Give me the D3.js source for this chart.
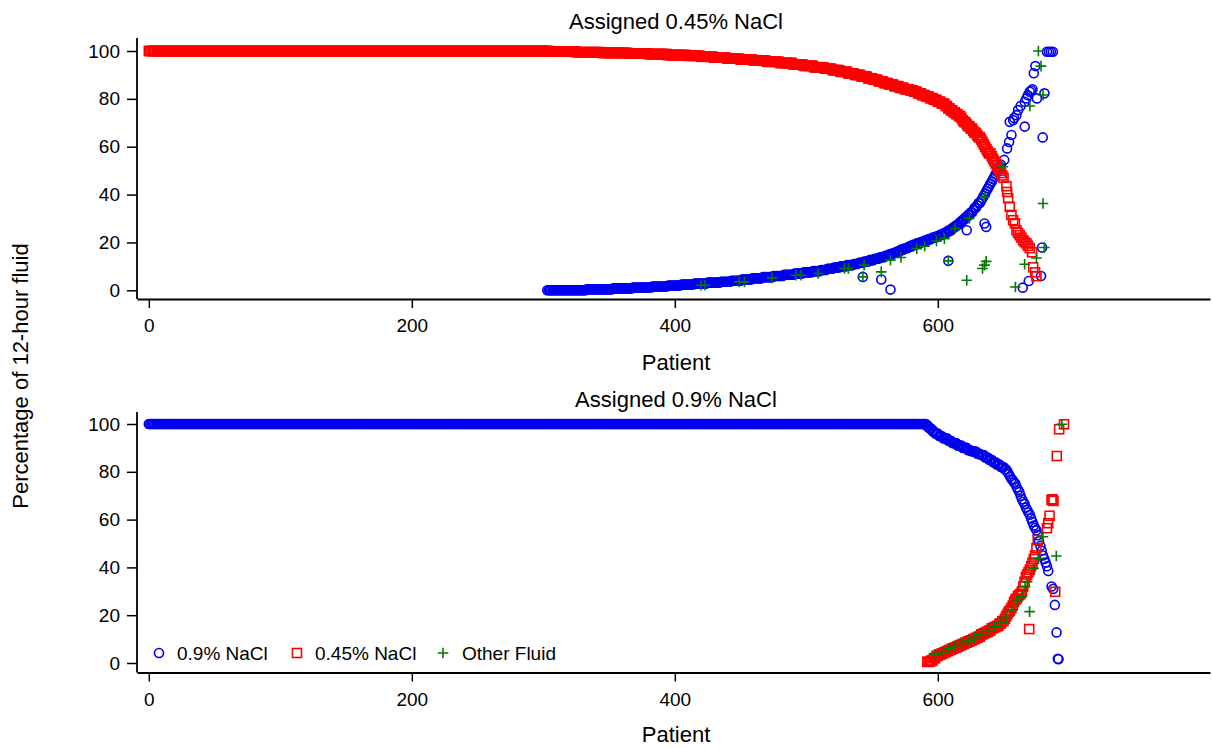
<!DOCTYPE html>
<html>
<head>
<meta charset="utf-8">
<script src="https://cdn.jsdelivr.net/npm/d3@7"></script>
<style>
  body { margin: 0; background: #fff; }
  svg { display: block; font-family: 'Liberation Sans', Arial, sans-serif; }
</style>
</head>
<body>
<svg id="chart" width="1212" height="748"></svg>
<script>
// ---- data ----
const xTicks = [0, 200, 400, 600];
const yTicks = [0, 20, 40, 60, 80, 100];
const seriesNames = ['0.9% NaCl', '0.45% NaCl', 'Other Fluid'];
const panelTitles = ['Assigned 0.45% NaCl', 'Assigned 0.9% NaCl'];

// sorted curves are kept as runs: [value, number of consecutive patients]
// top panel, 0.45% NaCl (red squares), starting at patient 0
const topRedStart = 0;
const topRedRuns = [
  [100, 305], [99.8, 20], [99.5, 20], [99.2, 20], [99, 15], [98.7, 15], [98.3, 15],
  [98, 10], [97.6, 10], [97.2, 10], [96.8, 10], [96.4, 10], [96, 10], [95.5, 10], [95, 10],
  [94.4, 8], [93.8, 8], [93.2, 8], [92.6, 6], [92, 6], [91.3, 6], [90.6, 5], [90, 5], [89.3, 5],
  [88.6, 4], [88, 4], [87.3, 4], [86.6, 4], [86, 4], [85.3, 4], [84.6, 4], [84, 4],
  [83.5, 3], [83, 3], [82.3, 3], [81.6, 3], [81, 3], [80.3, 3], [79.6, 3], [78.8, 3], [78, 3],
  [77, 2], [76, 2], [75.2, 2], [74.4, 2], [73.6, 2], [72.8, 2], [72, 1], [71, 1], [70.3, 2],
  [69.4, 1], [68.6, 2], [67.6, 2], [66.6, 1], [65.8, 2], [64.8, 1], [64, 2], [63, 1], [62, 1],
  [61, 1], [60, 1], [59, 1], [58, 1], [57.2, 2], [56, 1], [55, 1], [54, 1], [53, 1], [52, 1],
  [51, 1], [50, 1], [49, 1], [48, 1], [47, 1]
];
// scattered points: [patient, value]
const topRedExtra = [
  [652.2, 43.5], [652.7, 41.1], [653.5, 38.5], [654.7, 34.9], [656, 31.5], [657.3, 29.3],
  [658.6, 28], [659.8, 25.1], [661, 24], [662.3, 23], [663.6, 22], [664.9, 20.9], [666, 20.2],
  [667.4, 19.6], [668.6, 18.6], [669.9, 17.6], [671.7, 15.9], [672.5, 9.6], [674, 7.5], [675, 5.9]
];

// top panel, 0.9% NaCl (blue circles)
const topBlueStart = 303;
const topBlueRuns = [
  [0, 30], [0.4, 20], [0.8, 15], [1.2, 15], [1.6, 12], [2, 10], [2.4, 10], [2.8, 10], [3.2, 10],
  [3.6, 8], [4, 8], [4.5, 8], [5, 8], [5.5, 8], [6, 8], [6.5, 8], [7, 7], [7.5, 7], [8, 6],
  [8.5, 5], [9, 5], [9.5, 5], [10, 5], [10.5, 5], [11, 4], [11.5, 4], [12, 4], [12.6, 4],
  [13.2, 4], [13.8, 4], [14.4, 3], [15, 3], [15.6, 3], [16.2, 3], [17, 3], [17.6, 3], [18.3, 3],
  [19, 3], [19.6, 3], [20.2, 3], [20.8, 3], [21.4, 3], [22, 3], [22.6, 3], [23.3, 3], [24, 3],
  [25, 3], [26, 2], [26.8, 2], [27.5, 2], [28.5, 2], [29.5, 2], [30.5, 2], [31.5, 2], [32.5, 2],
  [33.5, 1], [34.5, 2], [35.5, 1], [36.5, 2], [37.5, 1], [38.5, 1], [39.5, 1], [40.5, 1],
  [41.5, 1], [42.5, 1], [43.5, 1], [44.5, 1], [45.5, 1], [46.5, 1], [47.5, 1], [48.5, 1],
  [49.5, 1], [50.5, 1], [51.5, 1], [52.5, 1]
];
const topBlueExtra = [
  [543, 5.6], [557, 4.5], [564, 0.3], [608, 12.3], [622, 25.1], [635.5, 27.9], [636.8, 26.5],
  [650.5, 54.5], [652.7, 59.3], [654.2, 62], [654.7, 70.4], [656, 64.9], [657.3, 71.1],
  [658, 72], [659.8, 73.2], [661.1, 75.3], [663, 77], [664.6, 1.1], [666.1, 78.8], [666.1, 68.4],
  [667.4, 80.2], [668.5, 81.5], [669.2, 3.9], [669.9, 83], [671, 83.5], [672, 84], [673, 90.7],
  [674.2, 93.7], [675.4, 80.2], [678.5, 6], [679.3, 17.9], [679.8, 63.9], [681.1, 82.3],
  [683, 99.7], [684.5, 99.7], [686, 99.7], [687.5, 99.7]
];

// top panel, other fluid (green plus)
const topGreen = [
  [420, 2.1], [423, 2.1], [449, 3.5], [453, 3.5], [474, 5.2], [492, 6.3], [496, 6.3], [509, 7],
  [529, 9.1], [532, 9.1], [543, 5.6], [544, 10.5], [557, 7.7], [564, 12.6], [572, 13.7],
  [584, 17.4], [590, 18.4], [599, 20.6], [605, 21.6], [608, 12.3], [613, 25.8], [622, 4.2],
  [624, 30], [634, 9.1], [635.5, 10.5], [636.8, 12.1], [635.5, 39], [649.5, 51.6], [659, 1.4],
  [666, 10.9], [670, 77], [675, 13.5], [676.5, 100], [678.5, 93.7], [680, 81.6], [680, 36.3],
  [681, 17.9]
];

// bottom panel, 0.9% NaCl (blue circles)
const bottomBlueStart = 0;
const bottomBlueRuns = [
  [100, 592], [99, 2], [98, 2], [97, 2], [96, 3], [95, 3], [94, 4], [93, 3], [92, 4], [91, 4],
  [90, 4], [89, 3], [88.5, 4], [87.5, 3], [87, 3], [86, 3], [85, 3], [84, 3], [83, 3], [82, 3],
  [81, 2], [80, 1], [79, 1], [78, 1], [77, 1], [76.5, 1], [75.5, 1], [75, 1], [73.5, 1],
  [72.5, 1], [71.5, 1], [70, 1], [68.5, 1], [67.5, 1], [66.5, 1], [65, 1], [64, 1], [63, 1],
  [62, 1], [60.5, 1], [59, 1], [57.5, 1], [56.5, 1], [55.5, 1], [53.5, 1], [51, 1], [49, 1],
  [47, 1], [45, 1], [43.5, 1], [42, 1], [40.5, 1], [38.5, 1]
];
const bottomBlueExtra = [
  [686.5, 32], [687.7, 31], [689, 24.3], [690.3, 12.8], [691.3, 1.8], [691.8, 1.6]
];

// bottom panel, 0.45% NaCl (red squares)
const bottomRedStart = 592;
const bottomRedRuns = [
  [0.5, 3], [1, 2], [2, 2], [3, 2], [3.5, 2], [4, 2], [4.5, 2], [5, 2], [5.5, 2], [6, 2],
  [6.5, 2], [7, 2], [7.5, 2], [8, 2], [8.5, 2], [9, 2], [9.5, 2], [10, 2], [10.5, 2], [11, 2],
  [12, 2], [12.5, 2], [13, 2], [13.5, 2], [14.5, 2], [15, 2], [15.5, 2], [16.5, 2], [17.5, 2],
  [18.5, 1], [19.5, 1], [20.5, 1], [21.5, 1], [22, 1], [23, 1], [24, 1], [25.5, 1], [26.5, 1],
  [27, 1], [28, 1], [28.5, 1], [29, 1], [30, 1], [32, 1], [34, 1], [36, 1], [37, 1], [38, 1],
  [39, 1], [40.5, 1], [42, 1], [43.5, 1], [45, 1], [48, 1], [51.5, 1]
];
const bottomRedExtra = [
  [669.5, 14.2], [683, 56.4], [684, 58.5], [685, 61.6], [686.5, 68.2], [687.2, 68.5],
  [688, 67.8], [689.3, 29.8], [690.5, 86.6], [692.3, 97.8], [696, 99.9]
];

// bottom panel, other fluid (green plus)
const bottomGreen = [
  [598, 3.5], [603, 4.6], [608, 6], [613, 7.2], [618, 8.2], [623, 9.4], [628, 10.6], [633, 12],
  [638, 13.3], [643, 15.2], [648, 17.2], [652, 19], [656, 22.2], [660, 25.9], [664, 27.8],
  [666.4, 31.9], [668, 34], [669.8, 21.5], [672.8, 39.6], [676.6, 43.8], [679.9, 52.8],
  [690.1, 44.8], [694.4, 99.9]
];

// ---- drawing ----
const BLUE = '#0000f0';
const RED = '#ff0000';
const GREEN = '#007a00';
const TICK_FONT = 19;
const TITLE_FONT = 22;

function expand(start, runs) {
  const out = [];
  let p = start;
  runs.forEach(([v, n]) => {
    for (let i = 0; i < n; i++) out.push([p++, v]);
  });
  return out;
}

const panels = [
  {
    title: panelTitles[0], titleY: 29, top: 38, bottom: 299, y0: 290.3, y100: 51, xTitleY: 370,
    blue: expand(topBlueStart, topBlueRuns).concat(topBlueExtra),
    red: expand(topRedStart, topRedRuns).concat(topRedExtra),
    green: topGreen, legend: false
  },
  {
    title: panelTitles[1], titleY: 407, top: 412, bottom: 672.5, y0: 663, y100: 424, xTitleY: 742,
    blue: expand(bottomBlueStart, bottomBlueRuns).concat(bottomBlueExtra),
    red: expand(bottomRedStart, bottomRedRuns).concat(bottomRedExtra),
    green: bottomGreen, legend: true
  }
];

const svg = d3.select('#chart');
const x = d3.scaleLinear().domain([-9, 807]).range([137, 1210]);

function circles(g, pts, y) {
  g.append('g')
    .selectAll('circle')
    .data(pts)
    .join('circle')
    .attr('cx', d => x(d[0]))
    .attr('cy', d => y(d[1]))
    .attr('r', 4.5)
    .attr('fill', 'none')
    .attr('stroke', BLUE)
    .attr('stroke-width', 1.6);
}

function squares(g, pts, y) {
  g.append('g')
    .selectAll('rect')
    .data(pts)
    .join('rect')
    .attr('x', d => x(d[0]) - 4.5)
    .attr('y', d => y(d[1]) - 4.5)
    .attr('width', 9)
    .attr('height', 9)
    .attr('fill', 'none')
    .attr('stroke', RED)
    .attr('stroke-width', 1.6);
}

function pluses(g, pts, y) {
  g.append('g')
    .selectAll('path')
    .data(pts)
    .join('path')
    .attr('d', d => {
      const cx = x(d[0]), cy = y(d[1]);
      return `M${cx - 5.3},${cy}h10.6M${cx},${cy - 5.3}v10.6`;
    })
    .attr('fill', 'none')
    .attr('stroke', GREEN)
    .attr('stroke-width', 1.6);
}

panels.forEach(panel => {
  const y = d3.scaleLinear().domain([0, 100]).range([panel.y0, panel.y100]);
  const g = svg.append('g');

  // title
  g.append('text')
    .attr('x', 676)
    .attr('y', panel.titleY)
    .attr('text-anchor', 'middle')
    .attr('font-size', TITLE_FONT)
    .text(panel.title);

  // y axis
  const yAxis = g.append('g')
    .attr('transform', 'translate(137,0)')
    .call(d3.axisLeft(y).tickValues(yTicks).tickSize(10).tickPadding(7));
  yAxis.select('.domain').remove();
  yAxis.selectAll('text').attr('font-size', TICK_FONT).attr('font-family', null).attr('fill', '#000');
  yAxis.selectAll('line').attr('stroke', '#000').attr('stroke-width', 1.5);
  g.append('line')
    .attr('x1', 137).attr('x2', 137)
    .attr('y1', panel.top).attr('y2', panel.bottom)
    .attr('stroke', '#000').attr('stroke-width', 1.8);

  // x axis
  const xAxis = g.append('g')
    .attr('transform', `translate(0,${panel.bottom})`)
    .call(d3.axisBottom(x).tickValues(xTicks).tickSize(9).tickSizeOuter(0).tickPadding(11));
  xAxis.select('.domain').attr('stroke', '#000').attr('stroke-width', 1.8);
  xAxis.selectAll('text').attr('font-size', TICK_FONT).attr('font-family', null).attr('fill', '#000');
  xAxis.selectAll('.tick line').attr('stroke', '#000').attr('stroke-width', 1.5);

  g.append('text')
    .attr('x', 676)
    .attr('y', panel.xTitleY)
    .attr('text-anchor', 'middle')
    .attr('font-size', TITLE_FONT)
    .text('Patient');

  // markers: blue, red, then green on top
  circles(g, panel.blue, y);
  squares(g, panel.red, y);
  pluses(g, panel.green, y);

  if (panel.legend) {
    const lg = g.append('g').attr('transform', 'translate(0,653)');
    const items = [
      { name: seriesNames[0], mx: 159, tx: 177, kind: 'circle' },
      { name: seriesNames[1], mx: 297, tx: 315, kind: 'square' },
      { name: seriesNames[2], mx: 443, tx: 462, kind: 'plus' }
    ];
    items.forEach(it => {
      if (it.kind === 'circle') {
        lg.append('circle').attr('cx', it.mx).attr('cy', 0).attr('r', 4.5)
          .attr('fill', 'none').attr('stroke', BLUE).attr('stroke-width', 1.6);
      } else if (it.kind === 'square') {
        lg.append('rect').attr('x', it.mx - 4.5).attr('y', -4.5).attr('width', 9).attr('height', 9)
          .attr('fill', 'none').attr('stroke', RED).attr('stroke-width', 1.6);
      } else {
        lg.append('path').attr('d', `M${it.mx - 5.3},0h10.6M${it.mx},-5.3v10.6`)
          .attr('fill', 'none').attr('stroke', GREEN).attr('stroke-width', 1.6);
      }
      lg.append('text')
        .attr('x', it.tx)
        .attr('y', 0)
        .attr('dy', '0.35em')
        .attr('font-size', TICK_FONT)
        .text(it.name);
    });
  }
});

// shared y axis title
svg.append('text')
  .attr('transform', 'translate(28,376) rotate(-90)')
  .attr('text-anchor', 'middle')
  .attr('font-size', TITLE_FONT)
  .text('Percentage of 12-hour fluid');
</script>
</body>
</html>
